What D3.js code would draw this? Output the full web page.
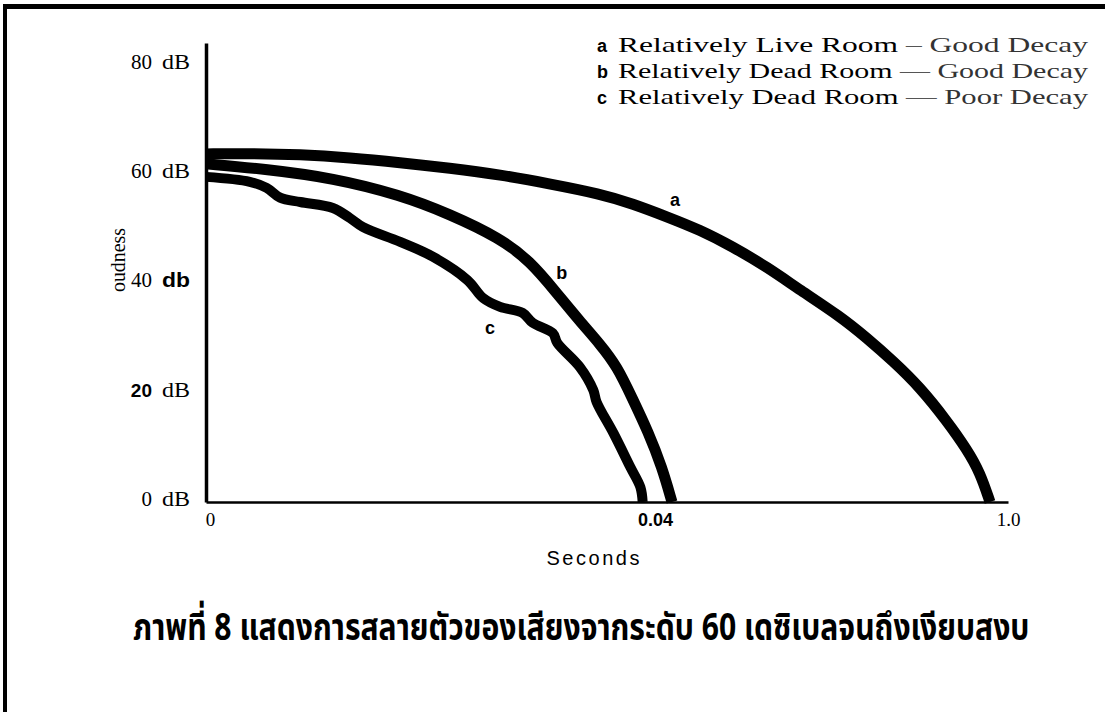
<!DOCTYPE html>
<html>
<head>
<meta charset="utf-8">
<script src="https://cdn.jsdelivr.net/npm/d3@7"></script>
<style>
	body { margin: 0; background: #fff; }
	#graphic svg { display: block; }
	.serif { font-family: "Liberation Serif", "DejaVu Serif", serif; }
	.sans { font-family: "Liberation Sans", Arial, sans-serif; }
	.thai { font-family: "Noto Sans Thai", "Laksaman", "Garuda", "Loma", "Norasi", sans-serif; }
</style>
</head>
<body>
<div id="graphic"></div>
<script>
// ---- data ----
const seriesKeys = ['a', 'b', 'c'];
const legendMain = ['Relatively Live Room', 'Relatively Dead Room', 'Relatively Dead Room'];
const legendDash = [' \u2013 ', ' \u2014 ', ' \u2014 '];
const legendTail = ['Good Decay', 'Good Decay', 'Poor Decay'];

// curve a : relatively live room, good decay
const aSeconds = [0, 0.0039, 0.0084, 0.0128, 0.0173, 0.0217, 0.0262, 0.0307, 0.0351, 0.0380, 0.0726, 0.1624, 0.2521, 0.3446, 0.4343, 0.5431, 0.6165, 0.6872, 0.7607, 0.8341, 0.8885, 0.9239, 0.9510];
const aDb = [63.7, 63.8, 63.6, 63.0, 62.1, 61.1, 59.9, 58.2, 56.4, 54.6, 52.2, 49.8, 46.7, 43.0, 38.8, 34.0, 30.0, 25.8, 21.0, 14.8, 9.6, 5.4, 0];

// curve b : relatively dead room, good decay
const bSeconds = [0, 0.0054, 0.0113, 0.0173, 0.0217, 0.0262, 0.0289, 0.0311, 0.0333, 0.0351, 0.0366, 0.0380, 0.0394, 0.0590, 0.0862];
const bDb = [61.9, 60.9, 59.3, 56.2, 52.7, 48.3, 44.0, 38.6, 33.1, 28.9, 24.9, 18.9, 12.8, 6.4, 0];

// curve c : relatively dead room, poor decay
const cSeconds = [0, 0.0039, 0.0054, 0.0066, 0.0084, 0.0113, 0.0128, 0.0140, 0.0173, 0.0202, 0.0233, 0.0247, 0.0262, 0.0282, 0.0291, 0.0309, 0.0313, 0.0333, 0.0345, 0.0348, 0.0363, 0.0378, 0.0387, 0.0389];
const cDb = [59.5, 58.6, 57.5, 55.7, 54.9, 53.8, 52.0, 50.3, 47.6, 44.9, 40.6, 37.3, 35.7, 34.6, 32.8, 30.9, 29.1, 24.7, 20.5, 18.3, 12.6, 6.4, 2.7, 0];

// axis ticks
const xTickValues = [0, 0.04, 1.0];
const xTickLabels = ['0', '0.04', '1.0'];
const yTickValues = [0, 20, 40, 60, 80];
const yTickNumbers = ['0', '20', '40', '60', '80'];
const yTickUnits = ['dB', 'dB', 'db', 'dB', 'dB'];

const xAxisTitle = 'Seconds';
const yAxisTitle = 'oudness';
const caption = 'ภาพที่ 8 แสดงการสลายตัวของเสียงจากระดับ 60 เดซิเบลจนถึงเงียบสงบ';

// ---- drawing ----
const width = 1105, height = 712;

let svg = d3.select('#graphic')
	.append('svg')
	.attr('width', width)
	.attr('height', height);

svg.append('rect').attr('width', width).attr('height', height).attr('fill', '#fff');

// frame of the scanned page (top and left edges only)
svg.append('rect').attr('x', 3).attr('y', 4).attr('width', width - 3).attr('height', 5).attr('fill', '#000');
svg.append('rect').attr('x', 3).attr('y', 4).attr('width', 4).attr('height', height - 4).attr('fill', '#000');

// the time axis of the figure is not uniform: 0 -> 0.04 takes most of the width
const x = d3.scaleLinear()
	.domain([0, 0.04, 1.0])
	.range([206, 655, 1008]);

const y = d3.scaleLinear()
	.domain([0, 84])
	.range([502, 43]);

// y axis: just the heavy line, labels are set by hand below
svg.append('g')
	.attr('class', 'y axis')
	.attr('transform', 'translate(' + x(0) + ',0)')
	.call(d3.axisLeft(y).tickValues([]).tickSizeOuter(0))
	.select('.domain')
	.attr('stroke', '#000')
	.attr('stroke-width', 3.5);

// x axis
let xAxis = svg.append('g')
	.attr('class', 'x axis')
	.attr('transform', 'translate(0,' + y(0) + ')')
	.call(d3.axisBottom(x)
		.tickValues(xTickValues)
		.tickSize(0)
		.tickSizeOuter(0)
		.tickPadding(11)
		.tickFormat((d, i) => xTickLabels[i]));

xAxis.select('.domain').attr('stroke', '#000').attr('stroke-width', 2.5);

xAxis.selectAll('.tick text')
	.attr('fill', '#000')
	.attr('class', (d) => d === 0.04 ? 'sans' : 'serif')
	.attr('font-weight', (d) => d === 0.04 ? 'bold' : 'normal')
	.attr('font-size', (d) => d === 0.04 ? 18 : 19)
	.attr('dx', (d) => d === 0 ? 4 : 0);

// y tick labels: number and unit set apart, fonts mixed as in the scan
let yLabels = svg.append('g').attr('class', 'y-labels');

yLabels.selectAll('text.num')
	.data(yTickValues)
	.join('text')
	.attr('class', (d) => d === 20 ? 'num sans' : 'num serif')
	.attr('x', 152)
	.attr('y', (d) => y(d) + 4)
	.attr('text-anchor', 'end')
	.attr('font-size', (d) => d === 20 ? 19 : 21)
	.attr('font-weight', (d) => d === 20 ? 'bold' : 'normal')
	.text((d, i) => yTickNumbers[i]);

yLabels.selectAll('text.unit')
	.data(yTickValues)
	.join('text')
	.attr('class', (d, i) => yTickUnits[i] === 'db' ? 'unit sans' : 'unit serif')
	.attr('x', 162)
	.attr('y', (d) => y(d) + 4)
	.attr('font-size', (d, i) => yTickUnits[i] === 'db' ? 20 : 21)
	.attr('font-weight', (d, i) => yTickUnits[i] === 'db' ? 'bold' : 'normal')
	.attr('textLength', 28)
	.attr('lengthAdjust', 'spacingAndGlyphs')
	.text((d, i) => yTickUnits[i]);

// axis titles
svg.append('text')
	.attr('class', 'serif')
	.attr('transform', 'translate(125,260) rotate(-90)')
	.attr('text-anchor', 'middle')
	.attr('font-size', 20)
	.attr('textLength', 64)
	.attr('lengthAdjust', 'spacingAndGlyphs')
	.text(yAxisTitle);

svg.append('text')
	.attr('class', 'sans')
	.attr('x', 593)
	.attr('y', 565)
	.attr('text-anchor', 'middle')
	.attr('font-size', 20)
	.attr('textLength', 93)
	.attr('lengthAdjust', 'spacing')
	.text(xAxisTitle);

// decay curves
const curves = [
	d3.zip(aSeconds, aDb),
	d3.zip(bSeconds, bDb),
	d3.zip(cSeconds, cDb)
];

// a and b are smooth sweeps, c keeps its wobbles
const smoothLine = d3.line()
	.x((d) => x(d[0]))
	.y((d) => y(d[1]))
	.curve(d3.curveBasis);

const roughLine = d3.line()
	.x((d) => x(d[0]))
	.y((d) => y(d[1]))
	.curve(d3.curveCatmullRom.alpha(0.5));

svg.append('g')
	.selectAll('path')
	.data(curves)
	.join('path')
	.attr('d', (d, i) => i === 2 ? roughLine(d) : smoothLine(d))
	.attr('fill', 'none')
	.attr('stroke', '#000')
	.attr('stroke-width', (d, i) => i === 2 ? 10 : 11)
	.attr('stroke-linejoin', 'round');

// letters beside each curve (anchored in data units)
const curveLabelAt = [[0.0944, 54.2], [0.0317, 40.8], [0.0253, 30.8]];

svg.append('g')
	.selectAll('text')
	.data(seriesKeys)
	.join('text')
	.attr('class', 'sans')
	.attr('x', (d, i) => x(curveLabelAt[i][0]))
	.attr('y', (d, i) => y(curveLabelAt[i][1]))
	.attr('text-anchor', 'middle')
	.attr('font-size', 18)
	.attr('font-weight', 'bold')
	.text((d) => d);

// legend, top right
let legendItem = svg.append('g')
	.selectAll('g')
	.data(seriesKeys)
	.join('g')
	.attr('transform', (d, i) => 'translate(597,' + (52 + i * 26) + ')');

legendItem.append('text')
	.attr('class', 'sans')
	.attr('font-size', 18)
	.attr('font-weight', 'bold')
	.text((d) => d);

let legendText = legendItem.append('text')
	.attr('class', 'serif')
	.attr('x', 21)
	.attr('font-size', 22)
	.attr('textLength', 470)
	.attr('lengthAdjust', 'spacingAndGlyphs');

legendText.append('tspan').text((d, i) => legendMain[i]);
legendText.append('tspan').attr('fill', '#555').text((d, i) => legendDash[i]);
legendText.append('tspan').attr('fill', '#333').text((d, i) => legendTail[i]);

// Thai caption under the chart, squeezed sideways to the printed width
let captionText = svg.append('text')
	.attr('class', 'thai')
	.attr('font-size', 38)
	.attr('font-weight', 'bold')
	.text(caption);

const captionWidth = captionText.node().getComputedTextLength();
captionText.attr('transform', 'translate(133,640) scale(' + (897 / captionWidth) + ',1)');
</script>
</body>
</html>
